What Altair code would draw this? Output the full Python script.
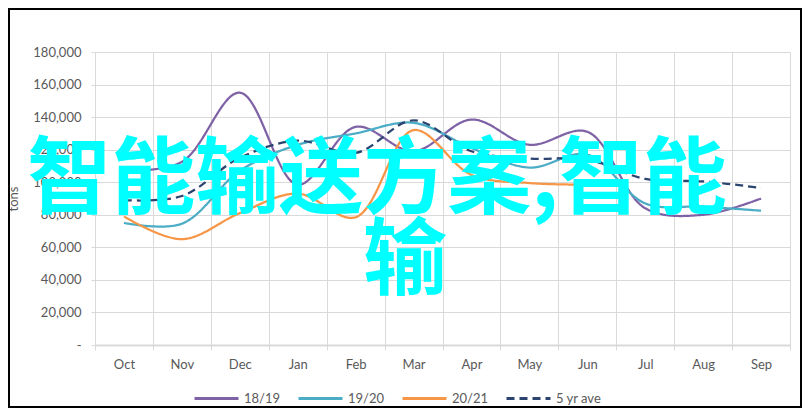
import altair as alt
import pandas as pd

# ---- data ----
months = ["Oct", "Nov", "Dec", "Jan", "Feb", "Mar", "Apr", "May", "Jun", "Jul", "Aug", "Sep"]
series_names = ["18/19", "19/20", "20/21", "5 yr ave"]
v_1819 = [107000, 112500, 155000, 98500, 134000, 119000, 138500, 123000, 131000, 84000, 80000, 90000]
v_1920 = [75000, 74500, 107000, 123000, 130000, 136500, 121000, 109000, 117000, 87000, 85000, 82500]
v_2021 = [79000, 65000, 81000, 93000, 78500, 132000, 104500, 99500, 98500, None, None, None]
v_5yr = [89000, 91500, 115000, 125500, 118000, 138000, 119000, 114500, 114000, 102000, 100500, 96500]
y_ticks = [0, 20000, 40000, 60000, 80000, 100000, 120000, 140000, 160000, 180000]
watermark_lines = ["智能输送方案,智能", "输"]

colors = ["#7F62A6", "#4BACC6", "#F79646", "#2B4570"]
dashes = [[1, 0], [1, 0], [1, 0], [8, 5]]

rows = []
for name, vals in zip(series_names, [v_1819, v_1920, v_2021, v_5yr]):
    for m, v in zip(months, vals):
        if v is not None:
            rows.append({"month": m, "series": name, "tons": v})
df = pd.DataFrame(rows)

FONT = "Lato"
GREY = "#595959"
GRID = "#D9D9D9"

legend = alt.Legend(
    title=None, orient="none", legendX=98, legendY=323, direction="horizontal",
    symbolType="stroke", symbolSize=1936, symbolStrokeWidth=3,
    labelFont=FONT, labelFontSize=13, labelColor=GREY, labelOffset=4,
    columnPadding=11, padding=0, gridAlign="none",
)

lines = alt.Chart(df).mark_line(interpolate="catmull-rom", strokeWidth=2.25).encode(
    x=alt.X(
        "month:N", sort=months,
        scale=alt.Scale(type="band", paddingInner=0, paddingOuter=0),
        axis=alt.Axis(
            title=None, labelAngle=0, tickBand="extent", grid=True, gridColor=GRID,
            domain=True, domainColor=GRID, domainWidth=2, ticks=True, tickSize=5,
            tickColor=GRID, labelFont=FONT, labelFontSize=13, labelColor=GREY,
            labelPadding=8,
        ),
    ),
    y=alt.Y(
        "tons:Q", scale=alt.Scale(domain=[0, 180000], nice=False),
        axis=alt.Axis(
            title="tons", values=y_ticks, domain=False, grid=True, gridColor=GRID,
            ticks=True, tickSize=4, tickColor=GRID, labelFont=FONT, labelFontSize=13,
            labelColor=GREY, labelPadding=10,
            labelExpr="datum.value == 0 ? '-' : format(datum.value, ',')",
            titleFont=FONT, titleFontSize=13, titleColor=GREY, titleFontWeight="normal",
            titlePadding=12,
        ),
    ),
    color=alt.Color("series:N", scale=alt.Scale(domain=series_names, range=colors), legend=legend),
    strokeDash=alt.StrokeDash("series:N", scale=alt.Scale(domain=series_names, range=dashes), legend=legend),
)

wm1 = alt.Chart(pd.DataFrame({"t": [watermark_lines[0]]})).mark_text(
    font="Noto Sans CJK SC", fontSize=84, fontWeight="bold", color="#00FFFF",
    align="center", baseline="alphabetic",
).encode(text="t:N", x=alt.value(282), y=alt.value(155))

wm2 = alt.Chart(pd.DataFrame({"t": [watermark_lines[1]]})).mark_text(
    font="Noto Sans CJK SC", fontSize=84, fontWeight="bold", color="#00FFFF",
    align="center", baseline="alphabetic",
).encode(text="t:N", x=alt.value(310), y=alt.value(236))

frame = alt.Chart(pd.DataFrame({"a": [0]})).mark_rect(
    fillOpacity=0, stroke="#000000", strokeWidth=2,
).encode(x=alt.value(-86), x2=alt.value(706), y=alt.value(-43), y2=alt.value(355))

chart = alt.layer(lines, wm1, wm2, frame).properties(
    width=695, height=293,
    title=alt.TitleParams(
        "Vietnam Total Shipment", font=FONT, fontSize=16, fontWeight="normal",
        color=GREY, anchor="middle", dx=-49, offset=22,
    ),
    autosize=alt.AutoSizeParams(type="none"),
    padding={"left": 87, "top": 44, "right": 12, "bottom": 63},
).configure_view(stroke=None)

chart.save("out.html", embed_options={"renderer": "svg", "actions": False})
